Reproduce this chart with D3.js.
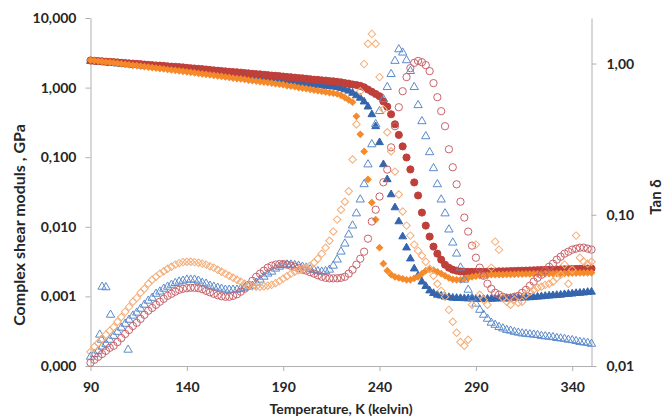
<!DOCTYPE html>
<html lang="en">
<head>
<meta charset="utf-8">
<title>Complex shear modulus and tan delta</title>
<script src="https://cdn.jsdelivr.net/npm/d3@7/dist/d3.min.js"></script>
<style>
body { margin: 0; background: #fff; }
svg text { font-family: Lato, "Open Sans", sans-serif; font-weight: bold; fill: #262626; }
</style>
</head>
<body>
<div id="chart"></div>
<script>
var width = 663;
var height = 416;

// temperature, K
var temps = [90, 92, 94, 96, 98, 100, 102, 104, 106, 108,
  110, 112, 114, 116, 118, 120, 122, 124, 126, 128,
  130, 132, 134, 136, 138, 140, 142, 144, 146, 148,
  150, 152, 154, 156, 158, 160, 162, 164, 166, 168,
  170, 172, 174, 176, 178, 180, 182, 184, 186, 188,
  190, 192, 194, 196, 198, 200, 202, 204, 206, 208,
  210, 212, 214, 216, 218, 220, 222, 224, 226, 228,
  230, 232, 234, 236, 238, 240, 242, 244, 246, 248,
  250, 252, 254, 256, 258, 260, 262, 264, 266, 268,
  270, 272, 274, 276, 278, 280, 282, 284, 286, 288,
  290, 292, 294, 296, 298, 300, 302, 304, 306, 308,
  310, 312, 314, 316, 318, 320, 322, 324, 326, 328,
  330, 332, 334, 336, 338, 340, 342, 344, 346, 348,
  350];

// complex shear modulus, GPa (left axis)
var gBlue = [2.40, 2.37, 2.34, 2.32, 2.29, 2.26, 2.24, 2.21, 2.19, 2.16,
  2.14, 2.11, 2.09, 2.07, 2.04, 2.02, 2.00, 1.97, 1.95, 1.93,
  1.91, 1.88, 1.86, 1.84, 1.81, 1.79, 1.76, 1.73, 1.71, 1.68,
  1.66, 1.63, 1.61, 1.59, 1.56, 1.54, 1.52, 1.50, 1.47, 1.45,
  1.43, 1.41, 1.39, 1.37, 1.35, 1.33, 1.31, 1.29, 1.27, 1.25,
  1.23, 1.22, 1.20, 1.18, 1.16, 1.15, 1.13, 1.12, 1.10, 1.08,
  1.07, 1.05, 1.04, 1.03, 1.01, 0.982, 0.939, 0.897, 0.835, 0.770,
  0.709, 0.627, 0.531, 0.411, 0.277, 0.163, 0.0787, 0.0479, 0.0291, 0.0189,
  0.0119, 0.00723, 0.00501, 0.00348, 0.00250, 0.00198, 0.00162, 0.00140, 0.00121, 0.00111,
  0.00105, 0.00102, 0.000986, 0.000970, 0.000950, 0.000945, 0.000940, 0.000935, 0.000930, 0.000925,
  0.000920, 0.000915, 0.000915, 0.000918, 0.000920, 0.000925, 0.000930, 0.000934, 0.000938, 0.000942,
  0.000946, 0.000950, 0.000955, 0.000960, 0.000965, 0.000975, 0.000985, 0.000995, 0.00101, 0.00102,
  0.00103, 0.00104, 0.00105, 0.00107, 0.00108, 0.00109, 0.00111, 0.00112, 0.00113, 0.00115,
  0.00116];

var gRed = [2.45, 2.43, 2.41, 2.38, 2.36, 2.34, 2.32, 2.30, 2.27, 2.25,
  2.23, 2.21, 2.19, 2.17, 2.14, 2.12, 2.10, 2.08, 2.07, 2.05,
  2.02, 2.00, 1.99, 1.97, 1.95, 1.92, 1.90, 1.88, 1.86, 1.84,
  1.82, 1.79, 1.77, 1.75, 1.73, 1.71, 1.69, 1.67, 1.66, 1.64,
  1.62, 1.60, 1.58, 1.56, 1.55, 1.53, 1.51, 1.49, 1.48, 1.46,
  1.44, 1.42, 1.41, 1.39, 1.37, 1.36, 1.34, 1.32, 1.30, 1.29,
  1.27, 1.26, 1.24, 1.23, 1.21, 1.19, 1.16, 1.14, 1.11, 1.09,
  1.06, 1.01, 0.938, 0.871, 0.809, 0.752, 0.633, 0.532, 0.414, 0.297,
  0.209, 0.143, 0.0991, 0.0667, 0.0434, 0.0282, 0.0160, 0.0104, 0.00723, 0.00519,
  0.00411, 0.00337, 0.00285, 0.00258, 0.00242, 0.00234, 0.00228, 0.00226, 0.00225, 0.00225,
  0.00225, 0.00226, 0.00226, 0.00227, 0.00227, 0.00228, 0.00229, 0.00229, 0.00230, 0.00231,
  0.00232, 0.00233, 0.00234, 0.00235, 0.00236, 0.00237, 0.00238, 0.00239, 0.00240, 0.00241,
  0.00242, 0.00243, 0.00244, 0.00245, 0.00246, 0.00247, 0.00248, 0.00249, 0.00250, 0.00251,
  0.00252];

var gOrange = [2.48, 2.44, 2.41, 2.37, 2.33, 2.30, 2.26, 2.23, 2.19, 2.16,
  2.13, 2.09, 2.07, 2.03, 2.00, 1.97, 1.94, 1.91, 1.88, 1.85,
  1.82, 1.79, 1.77, 1.74, 1.71, 1.68, 1.66, 1.63, 1.60, 1.57,
  1.55, 1.52, 1.50, 1.47, 1.45, 1.42, 1.40, 1.37, 1.35, 1.33,
  1.31, 1.28, 1.26, 1.24, 1.22, 1.20, 1.18, 1.16, 1.14, 1.12,
  1.10, 1.07, 1.05, 1.03, 1.00, 0.984, 0.964, 0.942, 0.923, 0.904,
  0.885, 0.865, 0.847, 0.830, 0.813, 0.774, 0.718, 0.665, 0.617, 0.387,
  0.213, 0.121, 0.0479, 0.0223, 0.0127, 0.00501, 0.00295, 0.00234, 0.00205, 0.00191,
  0.00185, 0.00179, 0.00173, 0.00173, 0.00182, 0.00191, 0.00212, 0.00234, 0.00242, 0.00238,
  0.00226, 0.00212, 0.00198, 0.00185, 0.00176, 0.00173, 0.00173, 0.00179, 0.00185, 0.00191,
  0.00195, 0.00198, 0.00201, 0.00201, 0.00205, 0.00205, 0.00206, 0.00206, 0.00207, 0.00207,
  0.00208, 0.00209, 0.00209, 0.00210, 0.00210, 0.00211, 0.00211, 0.00212, 0.00212, 0.00213,
  0.00213, 0.00214, 0.00214, 0.00215, 0.00215, 0.00216, 0.00216, 0.00217, 0.00217, 0.00218,
  0.00218];

// tan delta (right axis)
var tanBlue = [0.0115, 0.0120, 0.0126, 0.0134, 0.0140, 0.0149, 0.0158, 0.0168, 0.0179, 0.0190,
  0.0202, 0.0215, 0.0225, 0.0239, 0.0254, 0.0270, 0.0282, 0.0300, 0.0310, 0.0324,
  0.0334, 0.0344, 0.0353, 0.0361, 0.0366, 0.0372, 0.0372, 0.0372, 0.0366, 0.0355,
  0.0350, 0.0339, 0.0334, 0.0329, 0.0324, 0.0319, 0.0319, 0.0319, 0.0319, 0.0324,
  0.0329, 0.0334, 0.0339, 0.0355, 0.0372, 0.0389, 0.0408, 0.0420, 0.0440, 0.0453,
  0.0464, 0.0468, 0.0468, 0.0464, 0.0460, 0.0453, 0.0447, 0.0436, 0.0430, 0.0423,
  0.0420, 0.0423, 0.0433, 0.0460, 0.0505, 0.0570, 0.0644, 0.0739, 0.0848, 0.102,
  0.126, 0.159, 0.215, 0.292, 0.397, 0.484, 0.581, 0.698, 0.851, 1.04,
  1.24, 1.18, 1.05, 0.891, 0.698, 0.530, 0.415, 0.330, 0.259, 0.203,
  0.159, 0.126, 0.102, 0.0798, 0.0654, 0.0553, 0.0447, 0.0372, 0.0319, 0.0282,
  0.0258, 0.0235, 0.0218, 0.0205, 0.0193, 0.0187, 0.0181, 0.0177, 0.0173, 0.0171,
  0.0168, 0.0166, 0.0164, 0.0163, 0.0162, 0.0161, 0.0160, 0.0158, 0.0157, 0.0156,
  0.0155, 0.0153, 0.0152, 0.0151, 0.0149, 0.0148, 0.0146, 0.0144, 0.0143, 0.0142,
  0.0140];

// stray points of the blue tan delta run at low temperature
var tanBlueStrayT = [94.8, 95.7, 96.0, 98.0, 100.4, 109.5];
var tanBlueStray = [0.0161, 0.0149, 0.0334, 0.0331, 0.0218, 0.0128];

var tanRed = [0.0105, 0.0110, 0.0115, 0.0120, 0.0126, 0.0132, 0.0136, 0.0144, 0.0153, 0.0163,
  0.0173, 0.0184, 0.0193, 0.0205, 0.0218, 0.0232, 0.0242, 0.0254, 0.0266, 0.0278,
  0.0291, 0.0300, 0.0310, 0.0319, 0.0324, 0.0327, 0.0329, 0.0329, 0.0327, 0.0322,
  0.0314, 0.0307, 0.0300, 0.0294, 0.0289, 0.0287, 0.0287, 0.0291, 0.0298, 0.0310,
  0.0324, 0.0344, 0.0366, 0.0389, 0.0408, 0.0427, 0.0447, 0.0460, 0.0468, 0.0472,
  0.0472, 0.0468, 0.0460, 0.0453, 0.0444, 0.0433, 0.0427, 0.0417, 0.0408, 0.0398,
  0.0389, 0.0383, 0.0380, 0.0380, 0.0380, 0.0383, 0.0389, 0.0408, 0.0433, 0.0468,
  0.0512, 0.0570, 0.0695, 0.0902, 0.108, 0.132, 0.164, 0.199, 0.279, 0.385,
  0.514, 0.656, 0.813, 0.932, 1.01, 1.04, 1.02, 0.976, 0.891, 0.742,
  0.599, 0.484, 0.385, 0.271, 0.206, 0.159, 0.122, 0.0958, 0.0774, 0.0625,
  0.0520, 0.0447, 0.0395, 0.0350, 0.0324, 0.0305, 0.0296, 0.0287, 0.0282, 0.0282,
  0.0287, 0.0291, 0.0305, 0.0319, 0.0339, 0.0361, 0.0383, 0.0401, 0.0427, 0.0453,
  0.0475, 0.0505, 0.0528, 0.0553, 0.0570, 0.0588, 0.0597, 0.0606, 0.0606, 0.0597,
  0.0588];

var tanOrange = [0.0124, 0.0134, 0.0142, 0.0151, 0.0161, 0.0171, 0.0181, 0.0196, 0.0211, 0.0228,
  0.0246, 0.0266, 0.0282, 0.0305, 0.0324, 0.0350, 0.0372, 0.0389, 0.0408, 0.0423,
  0.0440, 0.0453, 0.0468, 0.0479, 0.0486, 0.0489, 0.0489, 0.0486, 0.0482, 0.0475,
  0.0468, 0.0457, 0.0447, 0.0433, 0.0420, 0.0408, 0.0395, 0.0383, 0.0372, 0.0361,
  0.0350, 0.0342, 0.0337, 0.0334, 0.0334, 0.0337, 0.0339, 0.0344, 0.0353, 0.0364,
  0.0378, 0.0392, 0.0408, 0.0420, 0.0430, 0.0440, 0.0447, 0.0460, 0.0482, 0.0512,
  0.0553, 0.0606, 0.0674, 0.0774, 0.0929, 0.108, 0.122, 0.143, 0.232, 0.397,
  0.656, 0.991, 1.35, 1.57, 1.35, 0.813, 0.499, 0.351, 0.263, 0.193,
  0.136, 0.105, 0.0848, 0.0728, 0.0635, 0.0579, 0.0536, 0.0489, 0.0440, 0.0395,
  0.0350, 0.0314, 0.0287, 0.0235, 0.0196, 0.0166, 0.0144, 0.0136, 0.0149, 0.0254,
  0.0635, 0.0296, 0.0274, 0.0254, 0.0447, 0.0664, 0.0588, 0.0282, 0.0266, 0.0254,
  0.0274, 0.0262, 0.0266, 0.0296, 0.0310, 0.0319, 0.0329, 0.0334, 0.0344, 0.0350,
  0.0361, 0.0383, 0.0401, 0.0468, 0.0350, 0.0433, 0.0728, 0.0520, 0.0489, 0.0475,
  0.0489];

var xTicks = [90, 140, 190, 240, 290, 340];
var gTicks = [0.0001, 0.001, 0.01, 0.1, 1, 10];
var tanTicks = [0.01, 0.1, 1];

var comma = d3.formatLocale({decimal: ",", thousands: ".", grouping: [3], currency: ["", ""]});

const svg = d3.select("#chart")
  .append("svg")
  .attr("width", width)
  .attr("height", height);

var x = d3.scaleLinear().domain([90, 350]).range([90.5, 591.5]);
var yL = d3.scaleLog().domain([0.0001, 10]).range([366, 18]);
var yR = d3.scaleLog().domain([0.01, 2]).range([366, 18]);

function axisStyle(g) {
  g.selectAll("path, line").attr("stroke", "#b0b0b0").attr("stroke-width", 1);
  g.selectAll("text").attr("font-size", 14).attr("fill", "#262626");
}

svg.append("g")
  .attr("transform", "translate(0,366)")
  .call(d3.axisBottom(x).tickValues(xTicks).tickSize(5).tickSizeOuter(0).tickPadding(11))
  .call(axisStyle);

svg.append("g")
  .attr("transform", "translate(90.5,0)")
  .call(d3.axisLeft(yL).tickValues(gTicks).tickSize(5).tickSizeOuter(0).tickPadding(9)
    .tickFormat(comma.format(".3f")))
  .call(axisStyle);

svg.append("g")
  .attr("transform", "translate(591.5,0)")
  .call(d3.axisRight(yR).tickValues(tanTicks).tickSize(5).tickSizeOuter(0).tickPadding(10)
    .tickFormat(comma.format(".2f")))
  .call(axisStyle);

// axis titles
svg.append("text")
  .attr("transform", "translate(19,225) rotate(-90)")
  .attr("dy", "0.35em")
  .attr("text-anchor", "middle")
  .attr("font-size", 16)
  .text("Complex shear moduls , GPa");

svg.append("text")
  .attr("transform", "translate(656,197) rotate(-90)")
  .attr("dy", "0.35em")
  .attr("text-anchor", "middle")
  .attr("font-size", 15)
  .text("Tan δ");

svg.append("text")
  .attr("x", 341)
  .attr("y", 414)
  .attr("text-anchor", "middle")
  .attr("font-size", 14)
  .text("Temperature, K (kelvin)");

// markers
var triangle = d3.symbol().type(d3.symbolTriangle);
var circle = d3.symbol().type(d3.symbolCircle);
var square = d3.symbol().type(d3.symbolSquare);

function series(xs, vals, yScale, shape, size, rotate, fill, stroke) {
  var pts = xs.map(function (t, i) { return [t, vals[i]]; });
  svg.append("g")
    .selectAll("path")
    .data(pts)
    .join("path")
    .attr("d", shape.size(size)())
    .attr("transform", function (d) {
      return "translate(" + x(d[0]) + "," + yScale(d[1]) + ")" + (rotate ? " rotate(45)" : "");
    })
    .attr("fill", fill)
    .attr("stroke", stroke)
    .attr("stroke-width", 1);
}

series(temps, gBlue, yL, triangle, 26, false, "#3565ad", "#3565ad");
series(temps, gRed, yL, circle, 40, false, "#bf3f3a", "#bf3f3a");
series(temps, gOrange, yL, square, 20, true, "#f58a2b", "#f58a2b");

series(temps, tanBlue, yR, triangle, 30, false, "none", "#5b8bcc");
series(tanBlueStrayT, tanBlueStray, yR, triangle, 30, false, "none", "#5b8bcc");
series(temps, tanRed, yR, circle, 42, false, "none", "#c8636b");
series(temps, tanOrange, yR, square, 28, true, "none", "#f5ad76");
</script>
</body>
</html>
